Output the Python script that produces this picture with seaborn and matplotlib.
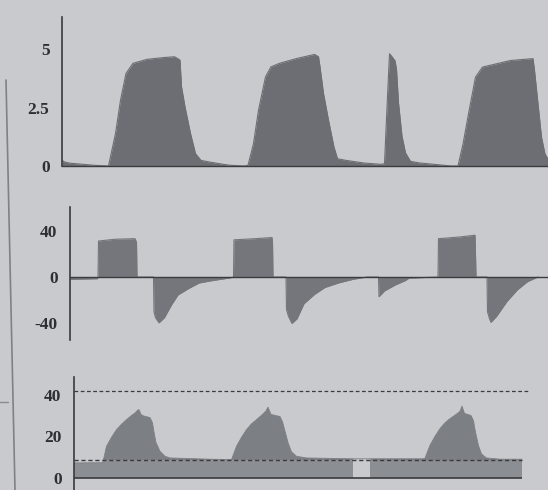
import numpy as np
import pandas as pd
import matplotlib
matplotlib.use("Agg")
import matplotlib.pyplot as plt
import seaborn as sns

# ---------------- data (time in s) ----------------
# Panel 1: volume-like waveform
t_vol = [0.04, 0.09, 0.20, 0.69, 0.97, 1.11, 1.21, 1.32, 1.46, 1.74, 2.09, 2.29, 2.40, 2.43, 2.50, 2.61, 2.71, 2.82, 2.99, 3.27, 3.41, 3.69,
         3.76, 3.87, 3.97, 4.11, 4.22, 4.39, 4.74, 5.09, 5.17, 5.20, 5.27, 5.37, 5.48, 5.55, 5.72, 6.07, 6.42,
         6.49, 6.52, 6.59, 6.63, 6.70, 6.73, 6.77, 6.84, 6.91, 7.01, 7.19, 7.54, 7.82,
         7.96, 8.06, 8.17, 8.31, 8.45, 8.73, 9.01, 9.29, 9.46, 9.49, 9.56, 9.63, 9.70, 9.76]
v_vol = [0.25, 0.17, 0.12, 0.03, 0.0, 1.39, 2.81, 3.96, 4.39, 4.56, 4.64, 4.67, 4.53, 3.39, 2.53, 1.39, 0.53, 0.24, 0.17, 0.07, 0.03, 0.0,
         0.03, 0.96, 2.39, 3.81, 4.24, 4.39, 4.6, 4.77, 4.67, 4.24, 3.1, 1.96, 0.81, 0.31, 0.24, 0.13, 0.07,
         0.1, 1.56, 4.8, 4.7, 4.5, 4.13, 2.7, 1.27, 0.56, 0.2, 0.13, 0.06, 0.0,
         0.0, 0.94, 2.23, 3.8, 4.23, 4.37, 4.51, 4.56, 4.59, 4.09, 2.66, 1.23, 0.51, 0.3]

# Panel 2: flow waveform
t_flow = [0.20, 0.75, 0.76, 0.77, 1.10, 1.50, 1.53, 1.54, 1.87, 1.88, 1.91, 1.98, 2.09, 2.23, 2.36, 2.57, 2.78, 2.99, 3.41,
          3.47, 3.48, 3.90, 4.24, 4.25, 4.26, 4.52, 4.53, 4.57, 4.64, 4.74, 4.88, 5.09, 5.30, 5.58, 5.86, 6.14,
          6.37, 6.38, 6.49, 6.70, 6.91, 6.98, 7.56, 7.57, 8.00, 8.30, 8.31, 8.32, 8.54, 8.55, 8.59, 8.62, 8.73,
          8.94, 9.15, 9.35, 9.56]
v_flow = [-2.0, -1.5, 0.0, 31.0, 32.5, 33.0, 30.0, 0.0, 0.0, -30.0, -35.0, -39.5, -35.0, -24.0, -15.5, -10.0, -5.2, -3.5, -0.7,
          0.0, 32.0, 33.0, 34.0, 30.0, 0.0, 0.0, -28.0, -34.0, -40.0, -36.0, -23.0, -15.0, -9.0, -5.0, -2.0, 0.0,
          0.0, -17.0, -12.0, -7.0, -3.0, -1.0, 0.0, 33.0, 34.5, 36.0, 20.0, 0.0, 0.0, -30.0, -36.0, -39.0, -34.0,
          -21.0, -11.0, -4.0, 0.0]

# Panel 3: pressure waveform (NaN = gap in the trace)
t_pres = [0.28, 0.86, 0.87, 0.93, 1.03, 1.13, 1.23, 1.33, 1.43, 1.50, 1.55, 1.58, 1.62, 1.67, 1.80, 1.85, 1.88, 1.92, 2.00, 2.10, 2.20, 3.00, 3.42,
          3.43, 3.53, 3.63, 3.73, 3.83, 3.93, 4.05, 4.12, 4.16, 4.22, 4.40, 4.45, 4.50, 4.56, 4.63, 4.73, 4.93, 5.86, 5.87, 6.20, 6.21,
          7.29, 7.30, 7.40, 7.50, 7.60, 7.70, 7.80, 7.92, 8.00, 8.04, 8.09, 8.22, 8.27, 8.31, 8.37, 8.43, 8.53, 8.80, 9.24]
v_pres = [7.2, 7.3, 8.8, 15.2, 19.5, 23.2, 25.8, 28.0, 30.0, 31.2, 32.5, 32.8, 30.5, 29.8, 29.0, 26.5, 22.0, 17.0, 12.8, 10.4, 9.6, 9.0, 8.8,
          8.8, 15.2, 19.5, 23.2, 26.0, 28.0, 30.5, 32.2, 34.0, 30.5, 29.5, 27.0, 22.5, 17.0, 12.5, 10.4, 9.6, 9.2, np.nan, np.nan, 9.2,
          9.2, 9.5, 15.7, 20.0, 23.7, 26.5, 28.5, 30.5, 32.0, 34.5, 31.0, 30.0, 27.5, 22.0, 15.5, 11.5, 9.6, 9.0, 9.0]
peep_level = 8.5
alarm_level = 42.0
pres_end = 9.24
alarm_end = 9.36

ticks_vol = [0, 2.5, 5]
labels_vol = ["0", "2.5", "5"]
ticks_flow = [-40, 0, 40]
labels_flow = ["-40", "0", "40"]
ticks_pres = [0, 20, 40]
labels_pres = ["0", "20", "40"]

# ---------------- style ----------------
bg = "#c9cacd"
sns.set_theme(style="white", rc={"figure.facecolor": bg, "axes.facecolor": bg})
plt.rcParams["font.family"] = ["Liberation Serif", "DejaVu Serif"]
plt.rcParams["axes.unicode_minus"] = False

fig = plt.figure(figsize=(5.48, 4.90), dpi=100)
W, H = 548.0, 490.0


def add_axes(left_px, top_px, right_px, bottom_px):
    return fig.add_axes([left_px / W, 1 - bottom_px / H, (right_px - left_px) / W, (bottom_px - top_px) / H])


ax1 = add_axes(62, 17, 548, 166)
ax2 = add_axes(70, 207, 548, 340)
ax3 = add_axes(74, 377, 548, 490)

dark = "#3a3b3e"

# Panel 1
df1 = pd.DataFrame({"t": t_vol, "v": v_vol})
c1 = "#6c6e73"
ax1.fill_between(df1["t"], 0, df1["v"], color=c1, linewidth=0)
sns.lineplot(data=df1, x="t", y="v", ax=ax1, color=c1, linewidth=0.8, estimator=None)
ax1.set_xlim(0.04, 9.76)
ax1.set_ylim(0, 6.37)
ax1.spines["bottom"].set_color(dark)
ax1.spines["bottom"].set_linewidth(1.0)
ax1.set_yticks(ticks_vol)
ax1.set_yticklabels(labels_vol, fontweight="bold")

# Panel 2
df2 = pd.DataFrame({"t": t_flow, "v": v_flow})
c2 = "#74767b"
ax2.fill_between(df2["t"], 0, df2["v"], color=c2, linewidth=0)
sns.lineplot(data=df2, x="t", y="v", ax=ax2, color=c2, linewidth=0.8, estimator=None)
ax2.axhline(0, color=dark, linewidth=1.0)
ax2.spines["bottom"].set_visible(False)
ax2.set_xlim(0.20, 9.76)
ax2.set_ylim(-54.3, 60.3)
ax2.set_yticks(ticks_flow)
ax2.set_yticklabels(labels_flow, fontweight="bold")

# Panel 3
df3 = pd.DataFrame({"t": t_pres, "v": v_pres})
p = df3["v"].to_numpy()
valid = ~np.isnan(p)
c3_band = "#8b8e93"
c3_peak = "#7c7f84"
ax3.fill_between(df3["t"], 0, np.where(valid, np.minimum(p, peep_level), 0), where=valid,
                 color=c3_band, linewidth=0)
ax3.fill_between(df3["t"], peep_level, np.where(valid, np.maximum(p, peep_level), peep_level),
                 where=valid, color=c3_peak, linewidth=0)
sns.lineplot(data=df3, x="t", y="v", ax=ax3, color=c3_peak, linewidth=0.6, estimator=None)
ax3.hlines(peep_level, 0.28, pres_end, colors=dark, linestyles=(0, (3, 2)), linewidth=1.0)
ax3.hlines(alarm_level, 0.28, alarm_end, colors=dark, linestyles=(0, (3, 2)), linewidth=0.9)
ax3.hlines(0, 0.28, pres_end, colors=dark, linewidth=1.2)
ax3.spines["bottom"].set_visible(False)
ax3.set_xlim(0.28, 9.76)
ax3.set_ylim(-5.8, 48.5)
ax3.set_yticks(ticks_pres)
ax3.set_yticklabels(labels_pres, fontweight="bold")

for ax in (ax1, ax2, ax3):
    for s in ("top", "right"):
        ax.spines[s].set_visible(False)
    ax.spines["left"].set_color(dark)
    ax.spines["left"].set_linewidth(1.2)
    ax.tick_params(axis="y", direction="out", length=5, width=1, color=dark, pad=4,
                   labelsize=12.5, labelcolor="#2e2f31")
    ax.tick_params(axis="x", bottom=False, labelbottom=False)
    ax.set_xlabel("")
    ax.set_ylabel("")

# screen border line at the left
fig.add_artist(plt.Line2D([6 / W, 15 / W], [1 - 80 / H, 0], transform=fig.transFigure,
                          color="#808185", linewidth=1.2))
fig.add_artist(plt.Line2D([0, 8 / W], [1 - 402 / H, 1 - 402 / H], transform=fig.transFigure,
                          color="#8a8b8f", linewidth=1.0))

fig.savefig("out.png", dpi=100, facecolor=bg)
